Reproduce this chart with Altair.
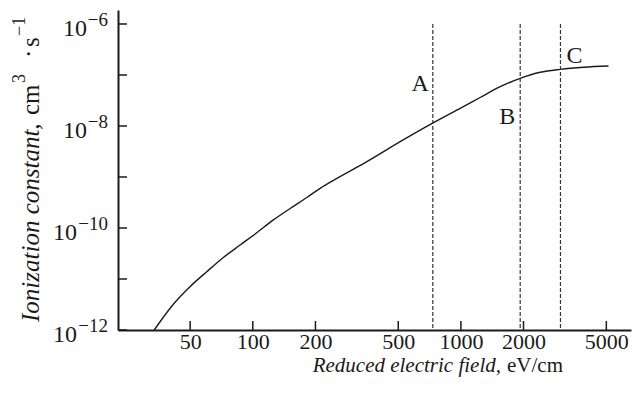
import altair as alt
import pandas as pd

# ---- data ----
field = [33.6, 41.5, 49.9, 60.1, 72.2, 86.9, 104.5, 125.6, 151.1, 181.8, 210.7,
         244.1, 353.3, 510.8, 738.6, 992, 1238, 1545, 1928, 2406, 3002, 3886, 5124]
rate = [1.0e-12, 3.2e-12, 7.06e-12, 1.39e-11, 2.64e-11, 4.64e-11, 8.09e-11,
        1.44e-10, 2.41e-10, 3.96e-10, 6.0e-10, 8.61e-10, 2.0e-9, 4.92e-9, 1.16e-8,
        2.22e-8, 3.62e-8, 5.90e-8, 8.61e-8, 1.13e-7, 1.29e-7, 1.42e-7, 1.50e-7]

x_ticks = [50, 100, 200, 500, 1000, 2000, 5000]
y_major = [1e-12, 1e-10, 1e-8, 1e-6]
y_exp = ["\u221212", "\u221210", "\u22128", "\u22126"]
y_minor = [1e-11, 1e-9, 1e-7]
marker_names = ["A", "B", "C"]
marker_field = [733, 1928, 3010]

X_DOMAIN = [22.5, 6570]
Y_DOMAIN = [1e-12, 1.88e-6]

FONT = "Liberation Serif"
INK = "#1a1a1a"

xs = alt.Scale(type="log", domain=X_DOMAIN, nice=False)
ys = alt.Scale(type="log", domain=Y_DOMAIN, nice=False)

AX = alt.Axis(values=x_ticks, format="d", title=None, grid=False,
              ticks=False, tickSize=0, labelFont=FONT, labelFontSize=22,
              labelColor=INK, labelPadding=1, domainWidth=2,
              domainColor=INK, labelFlush=False, labelOverlap=False)
AY = alt.Axis(labels=False, ticks=False, tickSize=0, title=None, grid=False,
              domainWidth=2, domainColor=INK)


def X(f):
    return alt.X(f, scale=xs, axis=AX)


def Y(f):
    return alt.Y(f, scale=ys, axis=AY)


curve_df = pd.DataFrame({"field": field, "rate": rate})
curve = alt.Chart(curve_df).mark_line(color=INK, strokeWidth=1.4, interpolate="monotone").encode(
    x=X("field:Q"), y=Y("rate:Q"))

# inward ticks
xt = alt.Chart(pd.DataFrame({"v": x_ticks})).mark_rule(color=INK, strokeWidth=1.5).encode(
    x=X("v:Q"), y=alt.value(320), y2=alt.value(311))
yt = alt.Chart(pd.DataFrame({"v": y_major + y_minor})).mark_rule(color=INK, strokeWidth=1.5).encode(
    y=Y("v:Q"), x=alt.value(0), x2=alt.value(9))

# y tick labels 10^n
lab_df = pd.DataFrame({"v": y_major, "e": y_exp})
long_df = lab_df[lab_df["e"].str.len() > 2]
short_df = lab_df[lab_df["e"].str.len() <= 2]
ten_long = alt.Chart(long_df).mark_text(text="10", align="right", baseline="alphabetic",
                                         font=FONT, fontSize=24, color=INK, dy=11.7).encode(
    y=Y("v:Q"), x=alt.value(-41))
ten_short = alt.Chart(short_df).mark_text(text="10", align="right", baseline="alphabetic",
                                           font=FONT, fontSize=24, color=INK, dy=11.7).encode(
    y=Y("v:Q"), x=alt.value(-31))
exps = alt.Chart(lab_df).mark_text(align="right", baseline="alphabetic",
                                    font=FONT, fontSize=19, color=INK, dy=1.7).encode(
    y=Y("v:Q"), x=alt.value(-10), text="e:N")

# dashed marker lines
mk_df = pd.DataFrame({"name": marker_names, "f": marker_field})
dashes = alt.Chart(mk_df).transform_calculate(top="1e-6", bot="1e-12").mark_rule(
    color="#333333", strokeWidth=1.2, strokeDash=[4, 2]).encode(
    x=X("f:Q"), y=Y("top:Q"), y2="bot:Q")


def marker_label(i, align, dx, ypix):
    return alt.Chart(mk_df.iloc[[i]]).mark_text(align=align, baseline="alphabetic", font=FONT,
                                               fontSize=24, color=INK, dx=dx).encode(
        x=X("f:Q"), y=alt.value(ypix), text="name:N")


labA = marker_label(0, "right", -4, 80.7)
labB = marker_label(1, "right", -5, 114)
labC = marker_label(2, "left", 6, 53.3)

one = pd.DataFrame({"k": [0]})


def txt(text, x, y, size, italic=False, align="left", angle=0):
    kw = dict(text=text, align=align, baseline="alphabetic", font=FONT, fontSize=size, color=INK)
    if italic:
        kw["fontStyle"] = "italic"
    if angle:
        kw["angle"] = angle
    return alt.Chart(one).mark_text(**kw).encode(x=alt.value(x), y=alt.value(y))


# x title (plot coords: abs - (118, 10))
xt_it = txt("Reduced electric field,", 383, 361.7, 21, italic=True, align="right")
xt_up = txt("eV/cm", 389, 361.7, 21)

# y title, rotated, reading upward (plot coords)
yx = 39 - 118
ytitle = [
    txt("Ionization constant,", yx, 312, 25, italic=True, angle=270),
    txt("cm", yx, 105, 25, angle=270),
    txt("3", yx - 14, 73, 18, angle=270),
    txt("\u00b7", yx - 2, 48, 25, angle=270),
    txt("s", yx, 37, 25, angle=270),
    txt("\u22121", yx - 14, 26, 18, angle=270),
]

chart = alt.layer(curve, xt, yt, dashes, ten_long, ten_short, exps, labA, labB, labC,
                  xt_it, xt_up, *ytitle).properties(
    width=513, height=320,
    padding={"left": 118, "top": 10, "right": 4, "bottom": 64},
    autosize=alt.AutoSizeParams(type="none"),
    background="white",
).configure_view(strokeWidth=0)

chart.save("out.html", embed_options={"renderer": "svg", "actions": False})
